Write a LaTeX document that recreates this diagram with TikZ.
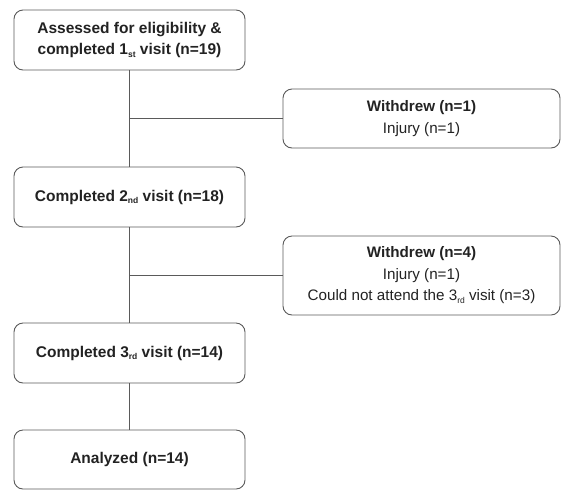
\documentclass[tikz,border=0pt]{standalone}
\usepackage{fontspec}
\setmainfont{Liberation Sans}
\definecolor{ln}{HTML}{5A5A5A}
\definecolor{tx}{HTML}{222222}
\newcommand{\sbs}[1]{\raisebox{-0.35ex}{\fontsize{8.5}{9}\selectfont #1}}
\begin{document}
\begin{tikzpicture}[x=1pt,y=-1pt,
  box/.style={draw=ln, line width=0.9pt, rounded corners=9pt, text=tx, align=center, inner sep=0pt},
  main/.style={box, minimum width=231pt, font=\fontsize{15.5}{20.5}\selectfont\bfseries},
  side/.style={box, minimum width=277pt, font=\fontsize{15.2}{21.5}\selectfont},
  conn/.style={draw=ln, line width=0.9pt}]
\useasboundingbox (0,0) rectangle (570,499);
\node[main, minimum height=60pt] (a) at (129.5,40) {Assessed for eligibility \&\\completed 1\sbs{st} visit (n=19)};
\node[main, minimum height=60pt] (b) at (129.5,197) {Completed 2\sbs{nd} visit (n=18)};
\node[main, minimum height=60pt] (c) at (129.5,353) {Completed 3\sbs{rd} visit (n=14)};
\node[main, minimum height=59pt] (d) at (129.5,459.5) {Analyzed (n=14)};
\node[side, minimum height=59pt] (w1) at (421.5,118.5) {\textbf{Withdrew (n=1)}\\Injury (n=1)};
\node[side, minimum height=79pt] (w2) at (421.5,275.5) {\textbf{Withdrew (n=4)}\\Injury (n=1)\\Could not attend the 3\sbs{rd} visit (n=3)};
\coordinate (j1) at (a.south |- w1.west);
\coordinate (j2) at (b.south |- w2.west);
\draw[conn] (a.south) -- (b.north);
\draw[conn] (b.south) -- (c.north);
\draw[conn] (c.south) -- (d.north);
\draw[conn] (j1) -- (w1.west);
\draw[conn] (j2) -- (w2.west);
\end{tikzpicture}
\end{document}
